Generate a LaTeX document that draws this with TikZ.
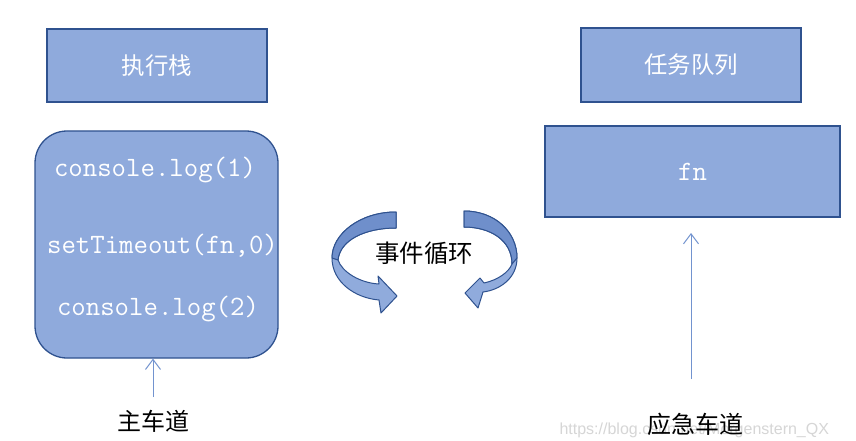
\documentclass[tikz,border=0pt]{standalone}
\usepackage{fontspec}
\setsansfont{Liberation Sans}
\newfontfamily\cjk{Noto Sans CJK SC}
\usetikzlibrary{arrows.meta}
\definecolor{boxfill}{HTML}{8FAADC}
\definecolor{boxline}{HTML}{2F528F}
\definecolor{connc}{HTML}{7293CF}
\definecolor{darkband}{HTML}{6F8FCB}
\definecolor{lightband}{HTML}{90ABDC}
\begin{document}
\begin{tikzpicture}[x=1pt,y=-1pt,
  box/.style={draw=boxline, fill=boxfill, line width=1.3pt, inner sep=0pt},
  title/.style={text=white, font=\cjk\fontsize{23.5}{26}\selectfont},
  code/.style={text=white, font=\ttfamily\fontsize{28}{30}\selectfont, inner sep=0pt},
  label/.style={text=black, font=\cjk\fontsize{24}{26}\selectfont},
  conn/.style={draw=connc, line width=1pt, -{Straight Barb[length=10pt,width=15pt]}},
  band/.style={draw=boxline, line width=1pt, line join=round}
]
\useasboundingbox (0,0) rectangle (856,441);
\fill[white] (0,0) rectangle (856,441);
% boxes
\node[box, title, minimum width=220pt, minimum height=73pt] (stack) at (157,65.5) {执行栈};
\node[box, title, minimum width=220pt, minimum height=74pt] (queue) at (691,65) {任务队列};
\node[box, code, minimum width=295pt, minimum height=91pt] (fnbox) at (692.5,171.5) {fn};
\node[box, rounded corners=32pt, minimum width=243pt, minimum height=227pt] (exec) at (156.5,244.5) {};
\node[code] (l1) at (155,170) {console.log(1)};
\node[code] (l2) at (162.5,246) {setTimeout(fn,0)};
\node[code] (l3) at (158,309) {console.log(2)};
% event loop arrows
\path[band, fill=lightband] (396,212) .. controls (360,212) and (332,234) .. (332,258) .. controls (332,282) and (355,298) .. (379,300) -- (381,313) -- (397,296) -- (378,276) -- (379,284) .. controls (360,283) and (342,272) .. (338,260) .. controls (340,240) and (365,228) .. (396,228) -- cycle;
\path[band, fill=darkband] (396,212) .. controls (360,212) and (332,234) .. (332,258) -- (338,260) .. controls (340,240) and (365,228) .. (396,228) -- cycle;
\path[band, fill=lightband] (464,211) .. controls (495,211) and (517,232) .. (517,258) .. controls (517,278) and (500,290) .. (483,292) -- (478,308) -- (465,293) -- (480,278) -- (484,283) .. controls (498,280) and (509,272) .. (512,264) .. controls (512,240) and (490,227) .. (464,227) -- cycle;
\path[band, fill=darkband] (464,211) .. controls (495,211) and (517,232) .. (517,258) -- (512,264) .. controls (512,240) and (490,227) .. (464,227) -- cycle;
\node[label, font=\cjk\fontsize{24.5}{26}\selectfont] (loop) at (424,253) {事件循环};
% lanes
\coordinate (mstart) at (153,397);
\draw[conn] (mstart) -- (mstart |- exec.south);
\node[label] (main) at (153,421) {主车道};
\node[font=\sffamily\fontsize{16}{18}\selectfont, text=black!16, anchor=west] (wm) at (556,430) {https://blog.csdn.net/Morgenstern\_QX};
\coordinate (estart) at (691,379);
\coordinate (eend) at (691,233);
\draw[conn] (estart) -- (eend);
\node[label] (emerg) at (695,424) {应急车道};
\end{tikzpicture}
\end{document}
